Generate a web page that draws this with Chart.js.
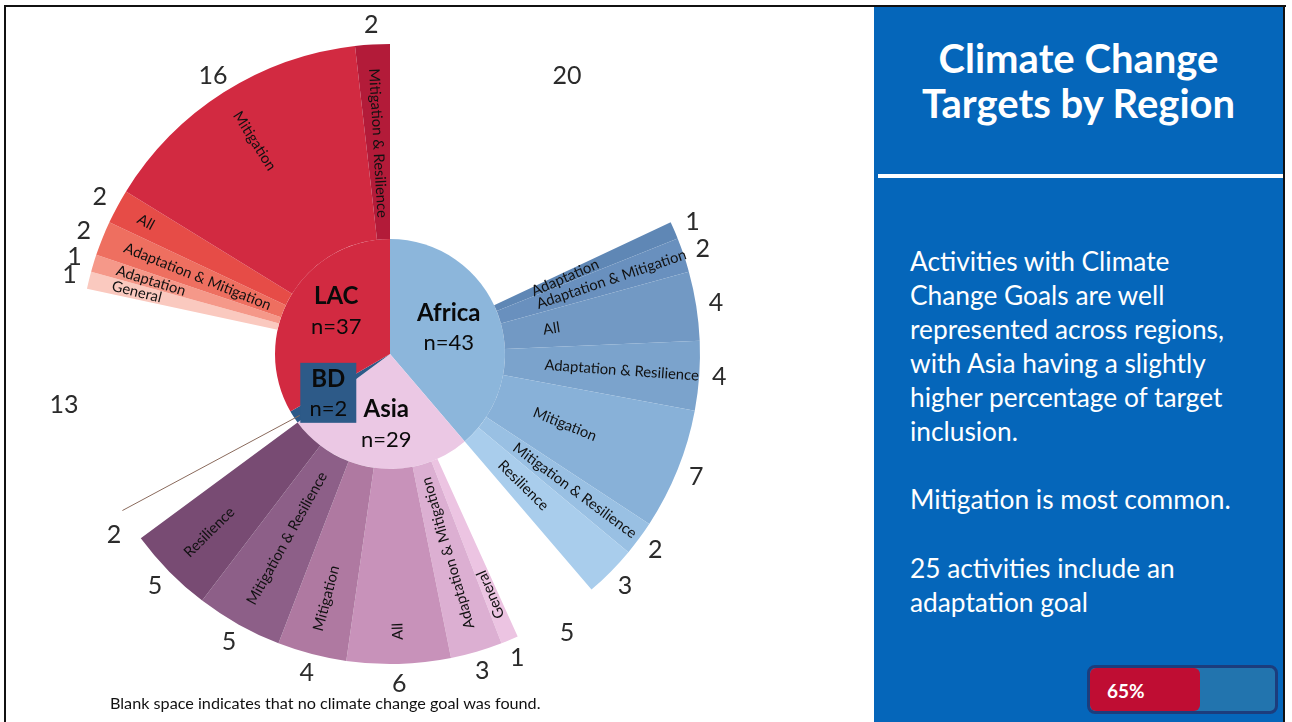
<!DOCTYPE html>
<html>
<head>
<meta charset="utf-8">
<script src="https://cdn.jsdelivr.net/npm/chart.js@4.4.1/dist/chart.umd.min.js"></script>
<style>
  html, body { margin: 0; padding: 0; background: #ffffff; }
  body { width: 1292px; height: 722px; position: relative; overflow: hidden; font-family: 'Lato', 'Open Sans', sans-serif; }
  #frameTop { position: absolute; left: 4px; top: 5px; width: 1282px; height: 2px; background: #111; }
  #frameLeft { position: absolute; left: 4px; top: 5px; width: 2px; height: 717px; background: #111; }
  #frameRight { position: absolute; left: 1283px; top: 5px; width: 2px; height: 717px; background: #111; }
  #chartBox { position: absolute; left: 0; top: 0; width: 870px; height: 722px; }
  #panel { position: absolute; left: 874px; top: 7px; width: 409px; height: 715px; background: #0566ba; color: #fff; }
  #title { position: absolute; left: 0; top: 29px; width: 409px; text-align: center; font-weight: 700; font-size: 40px; line-height: 45px; }
  #rule { position: absolute; left: 4px; top: 167px; width: 405px; height: 4px; background: #fff; }
  .body { position: absolute; left: 36px; font-size: 26.3px; line-height: 34px; white-space: nowrap; }
  #bar { position: absolute; left: 213px; top: 658px; width: 185px; height: 43px; border: 3px solid #1c3d7d; border-radius: 8px; background: #2274ae; overflow: hidden; }
  #barFill { position: absolute; left: 0; top: 0; width: 110px; height: 43px; background: #bf0d33; border-radius: 6px; }
  #barText { position: absolute; left: 17px; top: 11px; font-weight: 700; font-size: 19px; line-height: 24px; color: #fff; }
  #note { position: absolute; left: 110px; top: 693px; font-size: 16.2px; line-height: 20px; color: #111; white-space: nowrap; }
</style>
</head>
<body>
<div id="chartBox"><canvas id="c" width="870" height="722" style="width:870px;height:722px"></canvas></div>
<div id="note">Blank space indicates that no climate change goal was found.</div>
<div id="panel">
  <div id="title">Climate Change<br>Targets by Region</div>
  <div id="rule"></div>
  <div class="body" style="top:237px">Activities with Climate<br>Change Goals are well<br>represented across regions,<br>with Asia having a slightly<br>higher percentage of target<br>inclusion.</div>
  <div class="body" style="top:475px">Mitigation is most common.</div>
  <div class="body" style="top:544px">25 activities include an<br>adaptation goal</div>
  <div id="bar"><div id="barFill"></div><div id="barText">65%</div></div>
</div>
<div id="frameTop"></div>
<div id="frameLeft"></div>
<div id="frameRight"></div>

<script>
// Regions (inner ring), clockwise from 12 o'clock
const regions = ['Africa', 'Asia', 'BD', 'LAC'];
const regionCounts = [43, 29, 2, 37];
// Activities in each region with no climate change goal
const blankCounts = [20, 5, 2, 13];

// Goal types per region (outer ring), clockwise
const africaGoals = ['Adaptation', 'Adaptation & Mitigation', 'All', 'Adaptation & Resilience', 'Mitigation', 'Mitigation & Resilience', 'Resilience'];
const africaCounts = [1, 2, 4, 4, 7, 2, 3];
const asiaGoals = ['General', 'Adaptation & Mitigation', 'All', 'Mitigation', 'Mitigation & Resilience', 'Resilience'];
const asiaCounts = [1, 3, 6, 4, 5, 5];
const bdGoals = [];
const bdCounts = [];
const lacGoals = ['General', 'Adaptation', 'Adaptation & Mitigation', 'All', 'Mitigation', 'Mitigation & Resilience'];
const lacCounts = [1, 1, 2, 2, 16, 2];

// Palette
const regionColors = ['#8cb6db', '#ebc8e4', '#2d5a88', '#d22a41'];
const africaColors = ['#5f87b5', '#6990be', '#7299c4', '#7ba3cc', '#88b1d8', '#99c0e3', '#a9cdec'];
const asiaColors = ['#ecc4e2', '#dcafd2', '#c892ba', '#af79a1', '#8d5f88', '#784b73'];
const bdColors = [];
const lacColors = ['#fac9bf', '#f59889', '#ee6f60', '#e64c47', '#d22a41', '#b31b39'];
const blankColor = 'rgba(0,0,0,0)';

// Small nudges (px) for the region name blocks in the inner ring
const regionLabelNudge = [[-6, -2], [4, 2], [-4, 2], [6, -8]];

// Outer ring: each region starts with its blank share, then its goal types
const goalSets = [
  [africaGoals, africaCounts, africaColors],
  [asiaGoals, asiaCounts, asiaColors],
  [bdGoals, bdCounts, bdColors],
  [lacGoals, lacCounts, lacColors]
];
const outerNames = [], outerValues = [], outerColors = [], outerRegion = [];
goalSets.forEach(([names, counts, colors], r) => {
  outerNames.push(''); outerValues.push(blankCounts[r]); outerColors.push(blankColor); outerRegion.push(r);
  names.forEach((n, i) => {
    outerNames.push(n); outerValues.push(counts[i]); outerColors.push(colors[i]); outerRegion.push(r);
  });
});

const FONT = "'Lato', 'Open Sans', sans-serif";

const sunburstText = {
  id: 'sunburstText',
  afterDatasetsDraw(chart) {
    const ctx = chart.ctx;
    const outerMeta = chart.getDatasetMeta(0);
    const innerMeta = chart.getDatasetMeta(1);

    // thin leader across the BD slice
    const bd = innerMeta.data[2].getProps(['x', 'y', 'startAngle', 'endAngle', 'outerRadius'], true);
    const bdOuter = outerMeta.data[outerRegion.indexOf(2)].getProps(['outerRadius'], true).outerRadius;
    const span = bd.endAngle - bd.startAngle;
    const a1 = bd.startAngle + span * 0.35, a2 = bd.startAngle + span * 0.95;
    ctx.save();
    ctx.strokeStyle = '#8a6a5c';
    ctx.lineWidth = 1;
    ctx.beginPath();
    ctx.moveTo(bd.x + Math.cos(a1) * bd.outerRadius * 0.95, bd.y + Math.sin(a1) * bd.outerRadius * 0.95);
    ctx.lineTo(bd.x + Math.cos(a2) * bdOuter, bd.y + Math.sin(a2) * bdOuter);
    ctx.stroke();
    ctx.restore();

    // counts outside and goal names inside each outer wedge
    outerMeta.data.forEach((arc, i) => {
      const p = arc.getProps(['x', 'y', 'startAngle', 'endAngle', 'innerRadius', 'outerRadius'], true);
      const mid = (p.startAngle + p.endAngle) / 2;
      const cos = Math.cos(mid), sin = Math.sin(mid);

      ctx.save();
      ctx.fillStyle = '#2b2b2b';
      ctx.font = '25px ' + FONT;
      ctx.textAlign = 'center';
      ctx.textBaseline = 'middle';
      const rn = p.outerRadius + 20;
      ctx.fillText(String(outerValues[i]), p.x + cos * rn, p.y + sin * rn);
      ctx.restore();

      const name = outerNames[i];
      if (!name) return;
      let deg = ((mid + Math.PI / 2) * 180 / Math.PI) % 360;
      if (deg < 0) deg += 360;
      ctx.save();
      ctx.fillStyle = '#111';
      ctx.font = '14.8px ' + FONT;
      ctx.textBaseline = 'middle';
      ctx.textAlign = 'left';
      if (deg < 150) {
        const r0 = p.innerRadius + 40;
        ctx.translate(p.x + cos * r0, p.y + sin * r0);
        ctx.rotate(mid);
      } else {
        const r0 = p.outerRadius - 24;
        ctx.translate(p.x + cos * r0, p.y + sin * r0);
        ctx.rotate(mid + Math.PI);
      }
      ctx.fillText(name, 0, 0);
      ctx.restore();
    });

    // region names in the inner ring
    innerMeta.data.forEach((arc, i) => {
      const p = arc.getProps(['x', 'y', 'startAngle', 'endAngle', 'outerRadius'], true);
      const mid = (p.startAngle + p.endAngle) / 2;
      const r = p.outerRadius * 0.6;
      const cx = p.x + Math.cos(mid) * r + regionLabelNudge[i][0];
      const cy = p.y + Math.sin(mid) * r + regionLabelNudge[i][1];
      ctx.save();
      if (regions[i] === 'BD') {
        ctx.fillStyle = regionColors[i];
        ctx.fillRect(cx - 28, cy - 31, 56, 60);
      }
      ctx.fillStyle = '#0a0a0a';
      ctx.textAlign = 'center';
      ctx.textBaseline = 'middle';
      ctx.font = 'bold 24px ' + FONT;
      ctx.fillText(regions[i], cx, cy - 15);
      ctx.font = '22px ' + FONT;
      ctx.fillText('n=' + regionCounts[i], cx, cy + 15);
      ctx.restore();
    });
  }
};

new Chart(document.getElementById('c'), {
  type: 'doughnut',
  data: {
    labels: outerNames,
    datasets: [
      { data: outerValues, backgroundColor: outerColors, borderWidth: 0, weight: 195 },
      { data: regionCounts, backgroundColor: regionColors, borderWidth: 0, weight: 115 }
    ]
  },
  options: {
    responsive: false,
    animation: false,
    events: [],
    cutout: 0,
    layout: { padding: { left: 80, right: 170, top: 44, bottom: 58 } },
    plugins: { legend: { display: false }, tooltip: { enabled: false } }
  },
  plugins: [sunburstText]
});
</script>
</body>
</html>
